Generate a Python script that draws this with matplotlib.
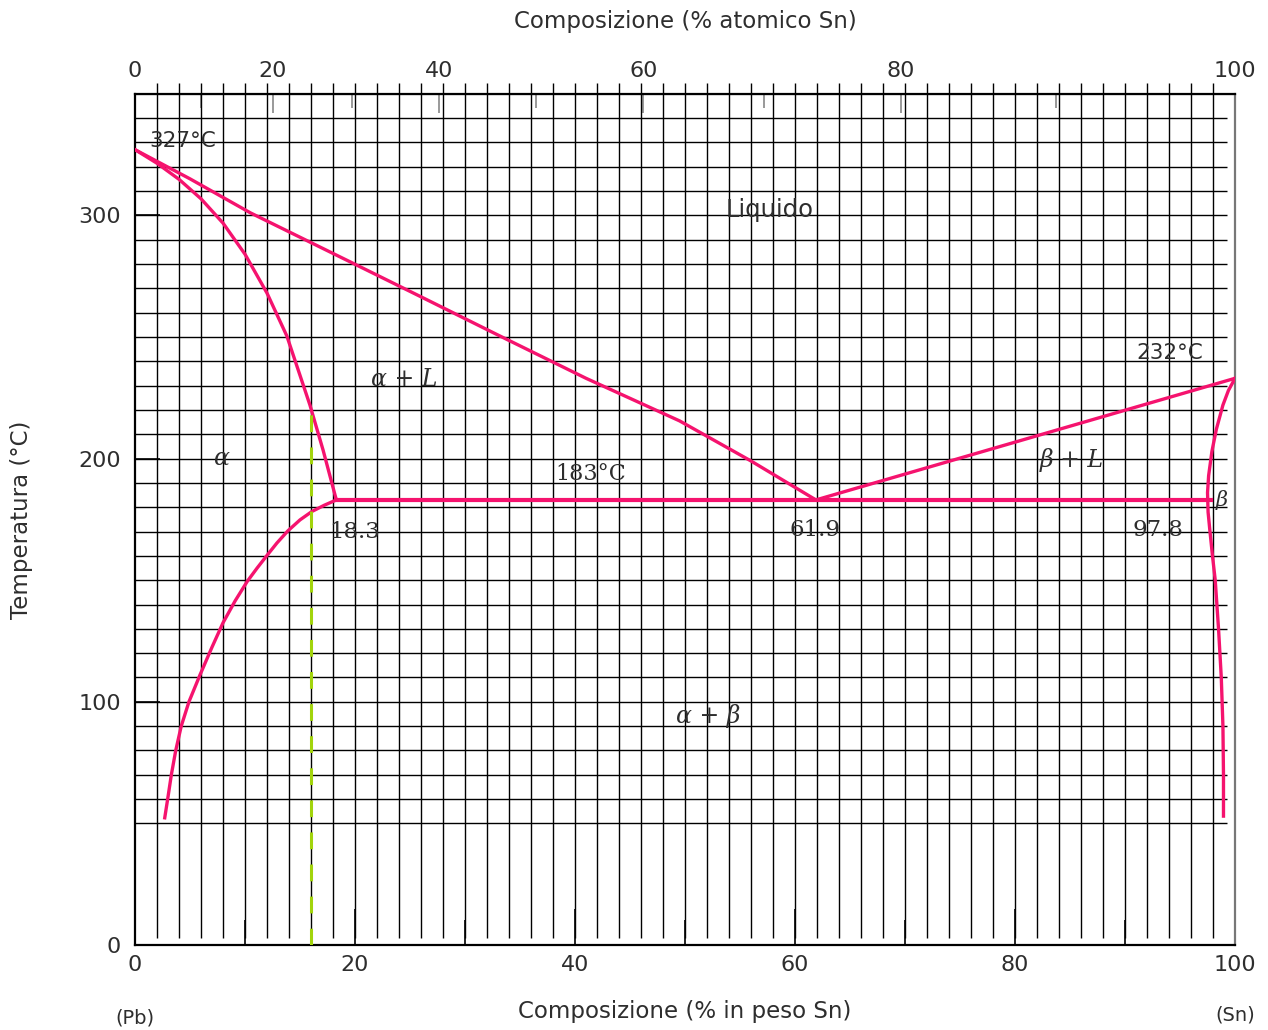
import numpy as np
import matplotlib
matplotlib.use('Agg')
import matplotlib.pyplot as plt

# Pb-Sn phase diagram (wt% Sn vs temperature)
liquidus_a_x = [0, 5, 10.5, 19.5, 26, 32.9, 41, 49.5, 56, 61.9]
liquidus_a_t = [327, 315, 301, 281, 266.5, 251, 233, 215.5, 199, 183]
liquidus_b_x = [61.9, 100]
liquidus_b_t = [183, 233]

solidus_a_x = [0, 2, 4, 6, 8, 10, 12, 13.8, 15.9, 17.1, 18.3]
solidus_a_t = [327, 321.4, 314.8, 306.8, 296.8, 284, 268, 250.4, 222, 203.4, 183]
solvus_a_x = [18.3, 17.2, 16.1, 15.0, 13.9, 12.9, 12.0, 11.1, 10.2, 9.1, 8.0,
              7.0, 5.9, 4.9, 4.2, 3.7, 3.3, 3.0, 2.7]
solvus_a_t = [183, 180.8, 178.3, 174.8, 170.3, 165.3, 160.2, 155, 149.5, 141.5, 132.5,
              122.5, 111, 100, 90, 80, 70, 61, 52.3]

beta_x = [100, 99.4, 98.9, 98.3, 97.9, 97.6, 97.5, 97.55, 97.7, 97.95, 98.2,
          98.5, 98.75, 98.9, 98.95, 98.95]
beta_t = [233, 228, 222, 212, 203, 193, 186, 178, 171, 160, 150,
          130, 110, 90, 70, 53]

eutectic_x = [18.3, 97.8]
eutectic_t = [183, 183]

alloy_x = [16, 16]
alloy_t = [0, 220]

bottom_ticks = [0, 20, 40, 60, 80, 100]
left_ticks = [0, 100, 200, 300]
top_ticks = [0, 20, 40, 60, 80, 100]
top_minor = [10, 30, 50, 70, 90]

M_SN = 118.71
M_PB = 207.2


def wt_to_at(w):
    w = np.clip(np.asarray(w, dtype=float), 1e-9, 100 - 1e-9)
    a = w / M_SN
    b = (100 - w) / M_PB
    return 100 * a / (a + b)


def at_to_wt(x):
    x = np.clip(np.asarray(x, dtype=float), 1e-9, 100 - 1e-9)
    a = x * M_SN
    b = (100 - x) * M_PB
    return 100 * a / (a + b)


plt.rcParams['font.family'] = ['DejaVu Sans']
pink = '#f5136e'
txt = '#2e2e2e'
serif = ['DejaVu Serif']

fig = plt.figure(figsize=(12.68, 10.30), dpi=100)
ax = fig.add_axes([0.1065, 0.0825, 0.8675, 0.8265])
ax.set_xlim(0, 100)
ax.set_ylim(0, 350)

# graph paper grid
ax.vlines(np.arange(2, 100, 2), 3, 354.5, color='black', lw=1.0, zorder=1, clip_on=False)
ax.hlines(np.arange(50, 350, 10), 0, 99.3, color='black', lw=1.0, zorder=1)

ax.plot(liquidus_a_x, liquidus_a_t, color=pink, lw=2.4, zorder=3)
ax.plot(liquidus_b_x, liquidus_b_t, color=pink, lw=2.4, zorder=3)
ax.plot(solidus_a_x, solidus_a_t, color=pink, lw=2.4, zorder=3)
ax.plot(solvus_a_x, solvus_a_t, color=pink, lw=2.4, zorder=3)
ax.plot(beta_x, beta_t, color=pink, lw=2.4, zorder=3)
ax.plot(eutectic_x, eutectic_t, color=pink, lw=3.0, zorder=3)
ax.plot(alloy_x, alloy_t, color='#a2d40c', lw=2.2, ls=(0, (5.5, 5)), zorder=4)

ax.text(1.3, 330.5, '327°C', fontsize=15.5, color=txt, va='center')
ax.text(57.7, 302, 'Liquido', fontsize=17.5, color=txt, ha='center', va='center')
ax.text(24.5, 232.5, 'α + L', fontsize=17, family=serif, style='italic', color=txt,
        ha='center', va='center')
ax.text(7.9, 200, 'α', fontsize=17, family=serif, style='italic', color=txt,
        ha='center', va='center')
ax.text(41.4, 193.5, '183°C', fontsize=16, family=serif, color=txt, ha='center', va='center')
ax.text(20.0, 170, '18.3', fontsize=16.5, family=serif, color=txt, ha='center', va='center')
ax.text(61.8, 170.5, '61.9', fontsize=16.5, family=serif, color=txt, ha='center', va='center')
ax.text(93.0, 170.5, '97.8', fontsize=16.5, family=serif, color=txt, ha='center', va='center')
ax.text(85.2, 199.5, 'β + L', fontsize=17, family=serif, style='italic', color=txt,
        ha='center', va='center')
ax.text(98.8, 183, 'β', fontsize=15, family=serif, style='italic', color=txt,
        ha='center', va='center')
ax.text(94.1, 243.5, '232°C', fontsize=15.5, color=txt, ha='center', va='center')
ax.text(52.1, 94, 'α + β', fontsize=17, family=serif, style='italic', color=txt,
        ha='center', va='center')

ax.set_xticks(bottom_ticks)
ax.set_xticks(np.arange(10, 100, 20), minor=True)
ax.set_yticks(left_ticks)
ax.tick_params(axis='x', which='major', direction='in', length=26, width=1.2,
               labelsize=16, labelcolor=txt, pad=7)
ax.tick_params(axis='x', which='minor', direction='in', length=18, width=1.2)
ax.tick_params(axis='y', which='major', direction='in', length=18, width=1.2,
               labelsize=16, labelcolor=txt, pad=10)
for s in ax.spines.values():
    s.set_linewidth(1.6)
ax.spines['right'].set_color('#777777')

ax.set_xlabel('Composizione (% in peso Sn)', fontsize=16.5, color=txt, labelpad=18)
ax.set_ylabel('Temperatura (°C)', fontsize=16.5, color=txt, labelpad=33)
ax.text(0, -0.086, '(Pb)', transform=ax.transAxes, fontsize=14, color=txt,
        ha='center', va='center')
ax.text(1.0, -0.082, '(Sn)', transform=ax.transAxes, fontsize=14, color=txt,
        ha='center', va='center')

top = ax.secondary_xaxis('top', functions=(wt_to_at, at_to_wt))
top.set_xticks(top_ticks)
top.set_xticks(top_minor, minor=True)
top.tick_params(axis='x', which='major', direction='in', length=14, width=1.2,
                color='#888888', labelsize=16, labelcolor=txt, pad=9)
top.tick_params(axis='x', which='minor', direction='in', length=10, width=1.2,
                color='#888888')
top.set_xlabel('Composizione (% atomico Sn)', fontsize=16.5, color=txt, labelpad=24)

fig.savefig('out.png', dpi=100)
